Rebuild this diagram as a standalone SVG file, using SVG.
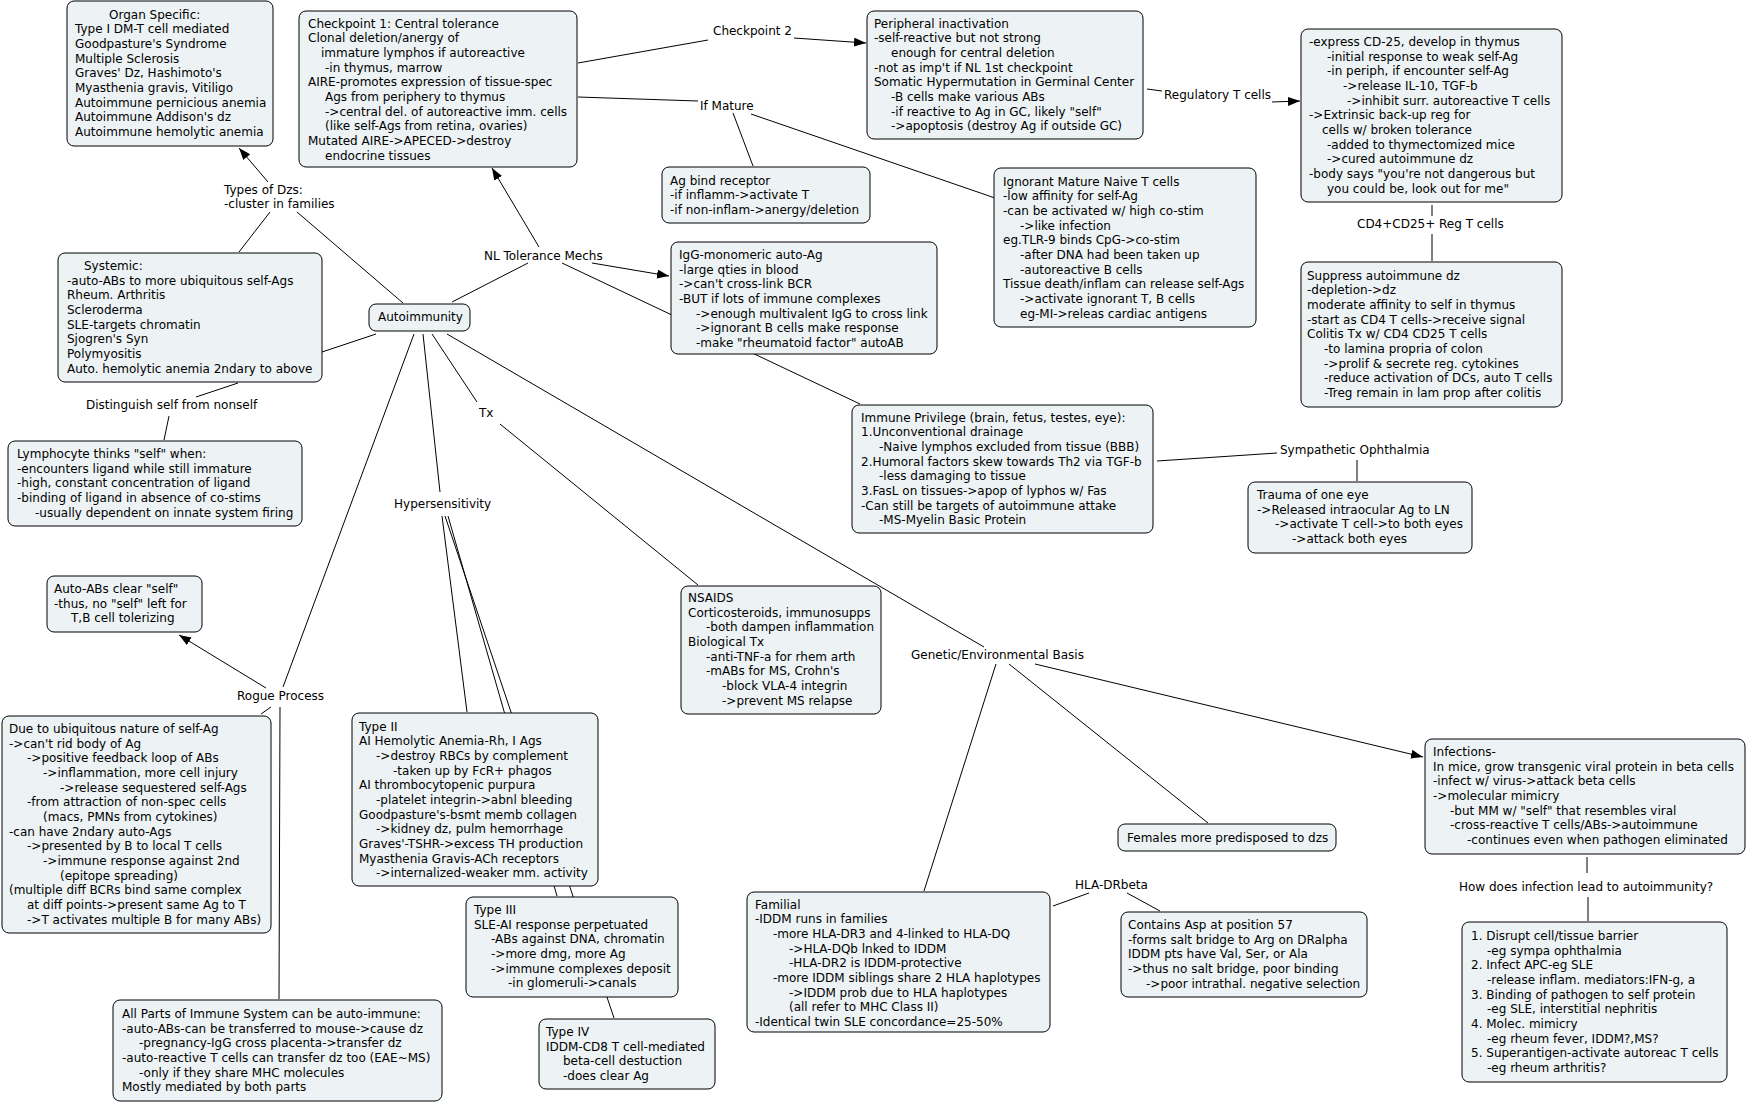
<svg xmlns="http://www.w3.org/2000/svg" width="1747" height="1103" viewBox="0 0 1747 1103">
<style>
.n rect{fill:#edf3f5;stroke:#000;stroke-width:1}
text{font-family:"DejaVu Sans",Verdana,sans-serif;font-size:12px;fill:#000}
.c line{stroke:#000;stroke-width:1}
.a{marker-end:url(#ah)}
</style>
<defs>
<marker id="ah" markerUnits="userSpaceOnUse" markerWidth="13" markerHeight="10" refX="12" refY="4.5" orient="auto"><path d="M0,0 L12,4.5 L0,9 z" fill="#000"/></marker>
</defs>
<rect width="1747" height="1103" fill="#fff"/>
<g id="connectors" class="c">
<line class="a" x1="268" y1="182" x2="239" y2="148"/>
<line x1="270" y1="212" x2="239" y2="252"/>
<line x1="297" y1="212" x2="403" y2="303"/>
<line x1="376" y1="334" x2="322" y2="352"/>
<line x1="238" y1="383" x2="196" y2="397"/>
<line x1="169" y1="416" x2="164" y2="440"/>
<line x1="452" y1="302" x2="528" y2="263"/>
<line class="a" x1="539" y1="247" x2="492" y2="168"/>
<line class="a" x1="592" y1="263" x2="669" y2="276"/>
<line x1="562" y1="263" x2="860" y2="404"/>
<line x1="578" y1="63" x2="708" y2="40"/>
<line class="a" x1="794" y1="38" x2="866" y2="43"/>
<line x1="578" y1="97" x2="698" y2="101"/>
<line x1="733" y1="113" x2="753" y2="166"/>
<line x1="751" y1="114" x2="995" y2="198"/>
<line x1="1147" y1="89" x2="1162" y2="91"/>
<line class="a" x1="1272" y1="102" x2="1300" y2="101"/>
<line x1="1432" y1="205" x2="1432" y2="216"/>
<line x1="1432" y1="234" x2="1432" y2="261"/>
<line x1="414" y1="334" x2="283" y2="687"/>
<line class="a" x1="266" y1="688" x2="179" y2="635"/>
<line x1="271" y1="707" x2="261" y2="714"/>
<line x1="280" y1="707" x2="279" y2="999"/>
<line x1="423" y1="334" x2="440" y2="492"/>
<line x1="442" y1="516" x2="467" y2="712"/>
<line x1="448" y1="516" x2="557" y2="896"/>
<line x1="445" y1="516" x2="614" y2="1018"/>
<line x1="432" y1="334" x2="477" y2="402"/>
<line x1="500" y1="424" x2="698" y2="585"/>
<line x1="447" y1="334" x2="984" y2="647"/>
<line x1="996" y1="664" x2="924" y2="891"/>
<line x1="1009" y1="664" x2="1208" y2="823"/>
<line class="a" x1="1035" y1="664" x2="1423" y2="757"/>
<line x1="1053" y1="906" x2="1089" y2="893"/>
<line x1="1127" y1="893" x2="1160" y2="911"/>
<line x1="1157" y1="461" x2="1277" y2="453"/>
<line x1="1357" y1="460" x2="1357" y2="481"/>
<line x1="1587" y1="857" x2="1587" y2="873"/>
<line x1="1588" y1="897" x2="1588" y2="921"/>
</g>
<g id="labels">
<text x="224" y="193.5">Types of Dzs:</text>
<text x="224" y="208">-cluster in families</text>
<text x="713" y="35">Checkpoint 2</text>
<text x="700" y="109.5">If Mature</text>
<text x="1164" y="98.5">Regulatory T cells</text>
<text x="1357" y="228">CD4+CD25+ Reg T cells</text>
<text x="484" y="259.5">NL Tolerance Mechs</text>
<text x="86" y="408.5">Distinguish self from nonself</text>
<text x="394" y="508">Hypersensitivity</text>
<text x="479" y="416.5">Tx</text>
<text x="237" y="699.5">Rogue Process</text>
<text x="911" y="659">Genetic/Environmental Basis</text>
<text x="1280" y="453.5">Sympathetic Ophthalmia</text>
<text x="1075" y="888.5">HLA-DRbeta</text>
<text x="1459" y="891">How does infection lead to autoimmunity?</text>
</g>
<g id="organ" class="n"><rect x="67" y="1" width="206" height="145" rx="7"/>
<text><tspan x="109" y="18.5">Organ Specific:</tspan><tspan x="75" y="33.2">Type I DM-T cell mediated</tspan><tspan x="75" y="47.8">Goodpasture's Syndrome</tspan><tspan x="75" y="62.5">Multiple Sclerosis</tspan><tspan x="75" y="77.2">Graves' Dz, Hashimoto's</tspan><tspan x="75" y="91.8">Myasthenia gravis, Vitiligo</tspan><tspan x="75" y="106.5">Autoimmune pernicious anemia</tspan><tspan x="75" y="121.2">Autoimmune Addison's dz</tspan><tspan x="75" y="135.8">Autoimmune hemolytic anemia</tspan></text></g>
<g id="checkpoint1" class="n"><rect x="299" y="11" width="278" height="156" rx="7"/>
<text><tspan x="308" y="27.5">Checkpoint 1: Central tolerance</tspan><tspan x="308" y="42.2">Clonal deletion/anergy of</tspan><tspan x="321" y="56.8">immature lymphos if autoreactive</tspan><tspan x="325" y="71.5">-in thymus, marrow</tspan><tspan x="308" y="86.2">AIRE-promotes expression of tissue-spec</tspan><tspan x="325" y="100.8">Ags from periphery to thymus</tspan><tspan x="325" y="115.5">->central del. of autoreactive imm. cells</tspan><tspan x="325" y="130.2">(like self-Ags from retina, ovaries)</tspan><tspan x="308" y="144.8">Mutated AIRE->APECED->destroy</tspan><tspan x="325" y="159.5">endocrine tissues</tspan></text></g>
<g id="peripheral" class="n"><rect x="867" y="11" width="276" height="128" rx="7"/>
<text><tspan x="874" y="27.5">Peripheral inactivation</tspan><tspan x="874" y="42.2">-self-reactive but not strong</tspan><tspan x="891" y="56.8">enough for central deletion</tspan><tspan x="874" y="71.5">-not as imp't if NL 1st checkpoint</tspan><tspan x="874" y="86.2">Somatic Hypermutation in Germinal Center</tspan><tspan x="891" y="100.8">-B cells make various ABs</tspan><tspan x="891" y="115.5">-if reactive to Ag in GC, likely "self"</tspan><tspan x="891" y="130.2">->apoptosis (destroy Ag if outside GC)</tspan></text></g>
<g id="regulatory" class="n"><rect x="1301" y="29" width="261" height="173" rx="7"/>
<text><tspan x="1309" y="46">-express CD-25, develop in thymus</tspan><tspan x="1327" y="60.7">-initial response to weak self-Ag</tspan><tspan x="1327" y="75.3">-in periph, if encounter self-Ag</tspan><tspan x="1343" y="90">->release IL-10, TGF-b</tspan><tspan x="1347" y="104.7">->inhibit surr. autoreactive T cells</tspan><tspan x="1309" y="119.3">->Extrinsic back-up reg for</tspan><tspan x="1322" y="134">cells w/ broken tolerance</tspan><tspan x="1327" y="148.7">-added to thymectomized mice</tspan><tspan x="1327" y="163.3">->cured autoimmune dz</tspan><tspan x="1309" y="178">-body says "you're not dangerous but</tspan><tspan x="1327" y="192.7">you could be, look out for me"</tspan></text></g>
<g id="suppress" class="n"><rect x="1301" y="262" width="261" height="145" rx="7"/>
<text><tspan x="1307" y="279.5">Suppress autoimmune dz</tspan><tspan x="1307" y="294.2">-depletion->dz</tspan><tspan x="1307" y="308.8">moderate affinity to self in thymus</tspan><tspan x="1307" y="323.5">-start as CD4 T cells->receive signal</tspan><tspan x="1307" y="338.2">Colitis Tx w/ CD4 CD25 T cells</tspan><tspan x="1324" y="352.8">-to lamina propria of colon</tspan><tspan x="1324" y="367.5">->prolif &amp; secrete reg. cytokines</tspan><tspan x="1324" y="382.2">-reduce activation of DCs, auto T cells</tspan><tspan x="1324" y="396.8">-Treg remain in lam prop after colitis</tspan></text></g>
<g id="agbind" class="n"><rect x="662" y="167" width="208" height="56" rx="7"/>
<text><tspan x="670" y="184.5">Ag bind receptor</tspan><tspan x="670" y="199.2">-if inflamm->activate T</tspan><tspan x="670" y="213.8">-if non-inflam->anergy/deletion</tspan></text></g>
<g id="igg" class="n"><rect x="671" y="242" width="266" height="112" rx="7"/>
<text><tspan x="679" y="259">IgG-monomeric auto-Ag</tspan><tspan x="679" y="273.7">-large qties in blood</tspan><tspan x="679" y="288.3">->can't cross-link BCR</tspan><tspan x="679" y="303">-BUT if lots of immune complexes</tspan><tspan x="696" y="317.7">->enough multivalent IgG to cross link</tspan><tspan x="696" y="332.3">->ignorant B cells make response</tspan><tspan x="696" y="347">-make "rheumatoid factor" autoAB</tspan></text></g>
<g id="ignorant" class="n"><rect x="994" y="168" width="262" height="159" rx="7"/>
<text><tspan x="1003" y="185.5">Ignorant Mature Naive T cells</tspan><tspan x="1003" y="200.2">-low affinity for self-Ag</tspan><tspan x="1003" y="214.8">-can be activated w/ high co-stim</tspan><tspan x="1020" y="229.5">->like infection</tspan><tspan x="1003" y="244.2">eg.TLR-9 binds CpG->co-stim</tspan><tspan x="1020" y="258.8">-after DNA had been taken up</tspan><tspan x="1020" y="273.5">-autoreactive B cells</tspan><tspan x="1003" y="288.2">Tissue death/inflam can release self-Ags</tspan><tspan x="1020" y="302.8">->activate ignorant T, B cells</tspan><tspan x="1020" y="317.5">eg-MI->releas cardiac antigens</tspan></text></g>
<g id="autoimmunity" class="n"><rect x="369" y="304" width="101" height="27" rx="7"/>
<text x="378" y="321">Autoimmunity</text></g>
<g id="systemic" class="n"><rect x="58" y="253" width="264" height="129" rx="7"/>
<text><tspan x="84" y="270">Systemic:</tspan><tspan x="67" y="284.7">-auto-ABs to more ubiquitous self-Ags</tspan><tspan x="67" y="299.3">Rheum. Arthritis</tspan><tspan x="67" y="314">Scleroderma</tspan><tspan x="67" y="328.7">SLE-targets chromatin</tspan><tspan x="67" y="343.3">Sjogren's Syn</tspan><tspan x="67" y="358">Polymyositis</tspan><tspan x="67" y="372.7">Auto. hemolytic anemia 2ndary to above</tspan></text></g>
<g id="lymphocyte" class="n"><rect x="8" y="441" width="294" height="85" rx="7"/>
<text><tspan x="17" y="458">Lymphocyte thinks "self" when:</tspan><tspan x="17" y="472.7">-encounters ligand while still immature</tspan><tspan x="17" y="487.3">-high, constant concentration of ligand</tspan><tspan x="17" y="502">-binding of ligand in absence of co-stims</tspan><tspan x="35" y="516.7">-usually dependent on innate system firing</tspan></text></g>
<g id="autoabs" class="n"><rect x="47" y="576" width="155" height="56" rx="7"/>
<text><tspan x="54" y="593">Auto-ABs clear "self"</tspan><tspan x="54" y="607.7">-thus, no "self" left for</tspan><tspan x="71" y="622.3">T,B cell tolerizing</tspan></text></g>
<g id="due" class="n"><rect x="2" y="716" width="269" height="217" rx="7"/>
<text><tspan x="9" y="733">Due to ubiquitous nature of self-Ag</tspan><tspan x="9" y="747.7">->can't rid body of Ag</tspan><tspan x="27" y="762.3">->positive feedback loop of ABs</tspan><tspan x="43" y="777">->inflammation, more cell injury</tspan><tspan x="60" y="791.7">->release sequestered self-Ags</tspan><tspan x="27" y="806.3">-from attraction of non-spec cells</tspan><tspan x="43" y="821">(macs, PMNs from cytokines)</tspan><tspan x="9" y="835.7">-can have 2ndary auto-Ags</tspan><tspan x="27" y="850.3">->presented by B to local T cells</tspan><tspan x="43" y="865">->immune response against 2nd</tspan><tspan x="60" y="879.7">(epitope spreading)</tspan><tspan x="9" y="894.3">(multiple diff BCRs bind same complex</tspan><tspan x="27" y="909">at diff points->present same Ag to T</tspan><tspan x="27" y="923.7">->T activates multiple B for many ABs)</tspan></text></g>
<g id="allparts" class="n"><rect x="113" y="1000" width="329" height="101" rx="7"/>
<text><tspan x="122" y="1018">All Parts of Immune System can be auto-immune:</tspan><tspan x="122" y="1032.7">-auto-ABs-can be transferred to mouse->cause dz</tspan><tspan x="139" y="1047.3">-pregnancy-IgG cross placenta->transfer dz</tspan><tspan x="122" y="1062">-auto-reactive T cells can transfer dz too (EAE~MS)</tspan><tspan x="139" y="1076.7">-only if they share MHC molecules</tspan><tspan x="122" y="1091.3">Mostly mediated by both parts</tspan></text></g>
<g id="type2" class="n"><rect x="352" y="713" width="246" height="173" rx="7"/>
<text><tspan x="359" y="730.5">Type II</tspan><tspan x="359" y="745.2">AI Hemolytic Anemia-Rh, I Ags</tspan><tspan x="376" y="759.8">->destroy RBCs by complement</tspan><tspan x="393" y="774.5">-taken up by FcR+ phagos</tspan><tspan x="359" y="789.2">AI thrombocytopenic purpura</tspan><tspan x="376" y="803.8">-platelet integrin->abnl bleeding</tspan><tspan x="359" y="818.5">Goodpasture's-bsmt memb collagen</tspan><tspan x="376" y="833.2">->kidney dz, pulm hemorrhage</tspan><tspan x="359" y="847.8">Graves'-TSHR->excess TH production</tspan><tspan x="359" y="862.5">Myasthenia Gravis-ACh receptors</tspan><tspan x="376" y="877.2">->internalized-weaker mm. activity</tspan></text></g>
<g id="type3" class="n"><rect x="466" y="897" width="212" height="100" rx="7"/>
<text><tspan x="474" y="914">Type III</tspan><tspan x="474" y="928.7">SLE-AI response perpetuated</tspan><tspan x="491" y="943.3">-ABs against DNA, chromatin</tspan><tspan x="491" y="958">->more dmg, more Ag</tspan><tspan x="491" y="972.7">->immune complexes deposit</tspan><tspan x="508" y="987.3">-in glomeruli->canals</tspan></text></g>
<g id="type4" class="n"><rect x="539" y="1019" width="176" height="70" rx="7"/>
<text><tspan x="546" y="1036">Type IV</tspan><tspan x="546" y="1050.7">IDDM-CD8 T cell-mediated</tspan><tspan x="563" y="1065.3">beta-cell destuction</tspan><tspan x="563" y="1080">-does clear Ag</tspan></text></g>
<g id="nsaids" class="n"><rect x="681" y="586" width="200" height="128" rx="7"/>
<text><tspan x="688" y="602">NSAIDS</tspan><tspan x="688" y="616.7">Corticosteroids, immunosupps</tspan><tspan x="706" y="631.3">-both dampen inflammation</tspan><tspan x="688" y="646">Biological Tx</tspan><tspan x="706" y="660.7">-anti-TNF-a for rhem arth</tspan><tspan x="706" y="675.3">-mABs for MS, Crohn's</tspan><tspan x="722" y="690">-block VLA-4 integrin</tspan><tspan x="722" y="704.7">->prevent MS relapse</tspan></text></g>
<g id="privilege" class="n"><rect x="852" y="405" width="301" height="128" rx="7"/>
<text><tspan x="861" y="421.5">Immune Privilege (brain, fetus, testes, eye):</tspan><tspan x="861" y="436.2">1.Unconventional drainage</tspan><tspan x="879" y="450.8">-Naive lymphos excluded from tissue (BBB)</tspan><tspan x="861" y="465.5">2.Humoral factors skew towards Th2 via TGF-b</tspan><tspan x="879" y="480.2">-less damaging to tissue</tspan><tspan x="861" y="494.8">3.FasL on tissues->apop of lyphos w/ Fas</tspan><tspan x="861" y="509.5">-Can still be targets of autoimmune attake</tspan><tspan x="879" y="524.2">-MS-Myelin Basic Protein</tspan></text></g>
<g id="trauma" class="n"><rect x="1248" y="482" width="224" height="71" rx="7"/>
<text><tspan x="1257" y="499">Trauma of one eye</tspan><tspan x="1257" y="513.7">->Released intraocular Ag to LN</tspan><tspan x="1275" y="528.3">->activate T cell->to both eyes</tspan><tspan x="1292" y="543">->attack both eyes</tspan></text></g>
<g id="females" class="n"><rect x="1118" y="824" width="218" height="27" rx="7"/>
<text x="1127" y="841.5">Females more predisposed to dzs</text></g>
<g id="familial" class="n"><rect x="747" y="892" width="303" height="140" rx="7"/>
<text><tspan x="755" y="908.5">Familial</tspan><tspan x="755" y="923.2">-IDDM runs in families</tspan><tspan x="773" y="937.8">-more HLA-DR3 and 4-linked to HLA-DQ</tspan><tspan x="789" y="952.5">->HLA-DQb lnked to IDDM</tspan><tspan x="789" y="967.2">-HLA-DR2 is IDDM-protective</tspan><tspan x="773" y="981.8">-more IDDM siblings share 2 HLA haplotypes</tspan><tspan x="789" y="996.5">->IDDM prob due to HLA haplotypes</tspan><tspan x="789" y="1011.2">(all refer to MHC Class II)</tspan><tspan x="755" y="1025.8">-Identical twin SLE concordance=25-50%</tspan></text></g>
<g id="contains" class="n"><rect x="1121" y="912" width="246" height="85" rx="7"/>
<text><tspan x="1128" y="929">Contains Asp at position 57</tspan><tspan x="1128" y="943.7">-forms salt bridge to Arg on DRalpha</tspan><tspan x="1128" y="958.3">IDDM pts have Val, Ser, or Ala</tspan><tspan x="1128" y="973">->thus no salt bridge, poor binding</tspan><tspan x="1146" y="987.7">->poor intrathal. negative selection</tspan></text></g>
<g id="infections" class="n"><rect x="1425" y="739" width="320" height="115" rx="7"/>
<text><tspan x="1433" y="756">Infections-</tspan><tspan x="1433" y="770.7">In mice, grow transgenic viral protein in beta cells</tspan><tspan x="1433" y="785.3">-infect w/ virus->attack beta cells</tspan><tspan x="1433" y="800">->molecular mimicry</tspan><tspan x="1450" y="814.7">-but MM w/ "self" that resembles viral</tspan><tspan x="1450" y="829.3">-cross-reactive T cells/ABs->autoimmune</tspan><tspan x="1467" y="844">-continues even when pathogen eliminated</tspan></text></g>
<g id="mechanisms" class="n"><rect x="1462" y="922" width="265" height="160" rx="7"/>
<text><tspan x="1471" y="940">1. Disrupt cell/tissue barrier</tspan><tspan x="1487" y="954.7">-eg sympa ophthalmia</tspan><tspan x="1471" y="969.3">2. Infect APC-eg SLE</tspan><tspan x="1487" y="984">-release inflam. mediators:IFN-g, a</tspan><tspan x="1471" y="998.7">3. Binding of pathogen to self protein</tspan><tspan x="1487" y="1013.3">-eg SLE, interstitial nephritis</tspan><tspan x="1471" y="1028">4. Molec. mimicry</tspan><tspan x="1487" y="1042.7">-eg rheum fever, IDDM?,MS?</tspan><tspan x="1471" y="1057.3">5. Superantigen-activate autoreac T cells</tspan><tspan x="1487" y="1072">-eg rheum arthritis?</tspan></text></g>
</svg>
